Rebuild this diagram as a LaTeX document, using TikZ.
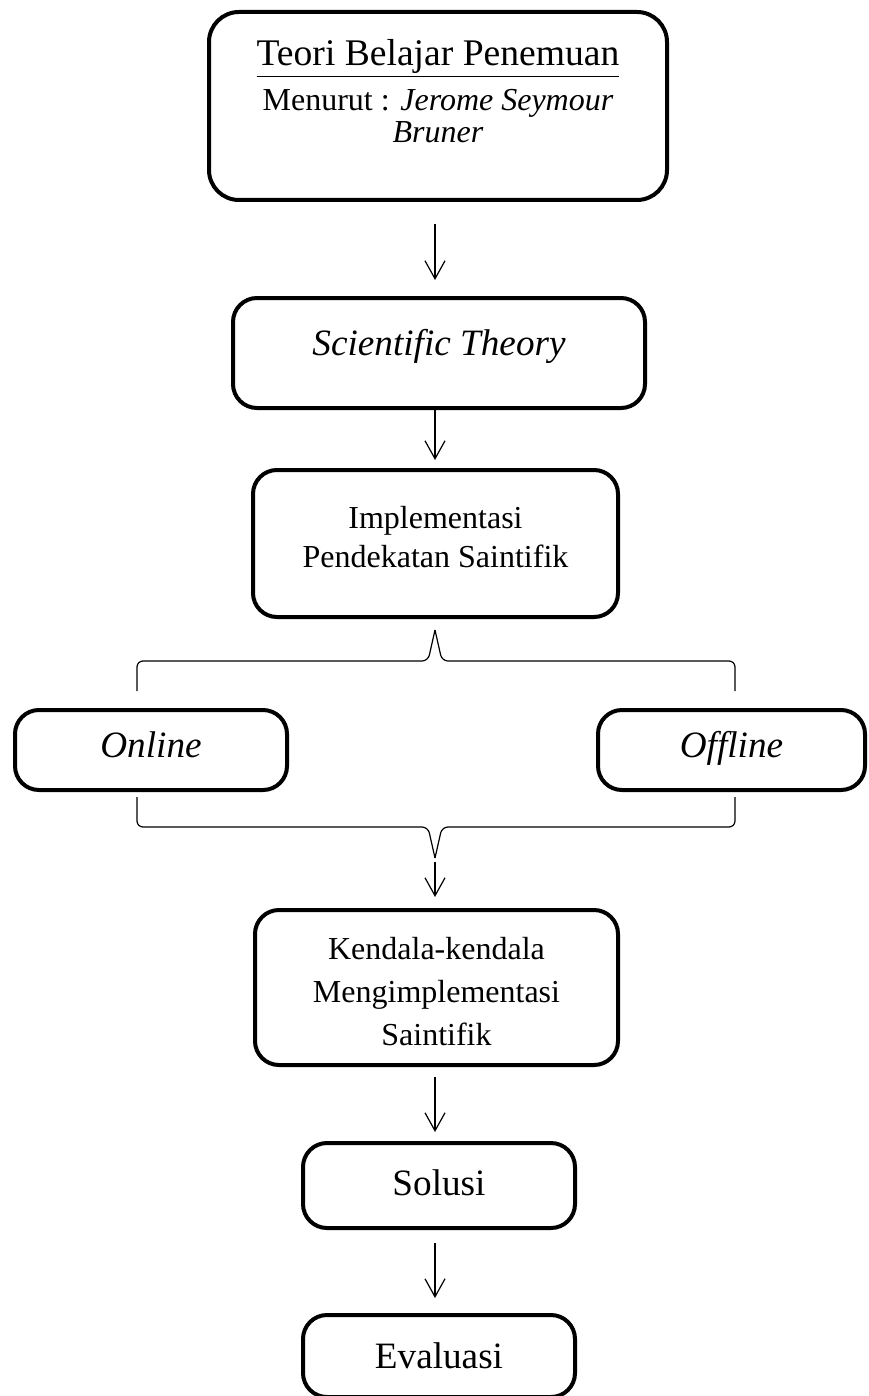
\documentclass[tikz,border=0pt]{standalone}
\usepackage{fontspec}
\setmainfont{Liberation Serif}
\usepackage{tikz}
\usetikzlibrary{arrows.meta, positioning}

\begin{document}
\begin{tikzpicture}[
    x=0.5pt, y=-0.5pt,
    box/.style={draw=black, line width=2pt, rounded corners=12pt, align=center,
                inner sep=2pt, anchor=base},
    big/.style={font=\fontsize{18.6}{22}\selectfont},
    small/.style={font=\fontsize{16}{21.5}\selectfont},
    arrow/.style={-{Straight Barb[length=9pt, width=10pt]}, line width=0.6pt},
    brace/.style={line width=0.6pt, rounded corners=3pt}
]
    \useasboundingbox (0,0) rectangle (868,1396);

    % boxes, placed at the baseline of their last line
    \node[box, rounded corners=15pt, minimum width=229pt, text height=63.5pt, text depth=26.5pt,
          font=\fontsize{16}{16}\selectfont] (teori) at (438,143)
        {{\fontsize{18.8}{21}\selectfont\underline{Teori Belajar Penemuan}}\\[5pt]
         Menurut : \textit{Jerome Seymour}\\ \textit{Bruner}};
    \node[box, big, minimum width=206pt, text height=26.5pt, text depth=24.5pt] (science) at (439,355)
        {\textit{Scientific Theory}};
    \node[box, font=\fontsize{16}{19.5}\selectfont, minimum width=182.5pt,
          text height=46.5pt, text depth=23pt] (impl) at (435.5,567)
        {Implementasi\\ Pendekatan Saintifik};
    \node[box, big, minimum width=136pt, text height=21.5pt, text depth=14.5pt] (online) at (151,757)
        {\textit{Online}};
    \node[box, big, minimum width=133.5pt, text height=21.5pt, text depth=14.5pt] (offline) at (731.5,757)
        {\textit{Offline}};
    \node[box, small, minimum width=181.5pt, text height=65.5pt, text depth=8pt] (kendala) at (436.5,1045)
        {Kendala-kendala\\ Mengimplementasi\\ Saintifik};
    \node[box, big, minimum width=136pt, text height=24pt, text depth=14.5pt] (solusi) at (439,1195)
        {Solusi};
    \node[box, big, minimum width=136pt, text height=24.5pt, text depth=12.5pt] (evaluasi) at (439,1368)
        {Evaluasi};

    % braces
    \coordinate (tipA) at (435,630);
    \coordinate (tipB) at (435,858);
    \draw[brace] (137,691) -- (137,661) -- (428,661) -- (tipA);
    \draw[brace] (735,691) -- (735,661) -- (442,661) -- (tipA);
    \draw[brace] (137,797) -- (137,827) -- (428,827) -- (tipB);
    \draw[brace] (735,797) -- (735,827) -- (442,827) -- (tipB);

    \draw[arrow, shorten <=11pt, shorten >=8pt] (teori.south -| tipA) -- (science.north -| tipA);
    \draw[arrow, shorten >=4pt] (science.south -| tipA) -- (impl.north -| tipA);
    \draw[arrow, shorten <=2pt, shorten >=5.5pt] (tipB) -- (kendala.north -| tipB);
    \draw[arrow, shorten <=5pt, shorten >=4.5pt] (kendala.south -| tipB) -- (solusi.north -| tipB);
    \draw[arrow, shorten <=6.5pt, shorten >=7.5pt] (solusi.south -| tipB) -- (evaluasi.north -| tipB);
\end{tikzpicture}
\end{document}
